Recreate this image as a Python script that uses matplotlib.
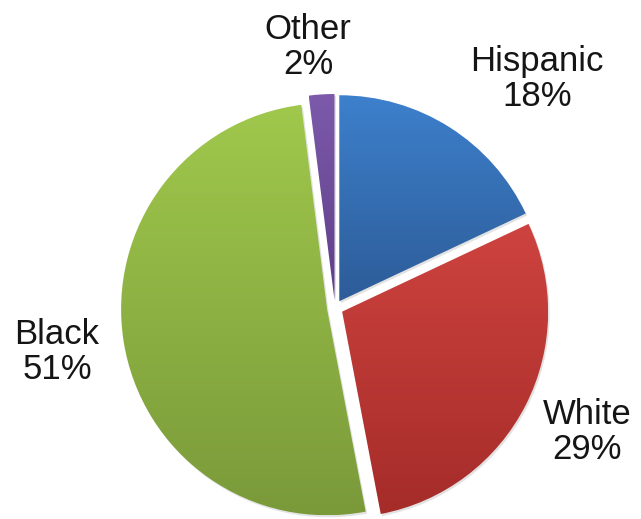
import numpy as np
import matplotlib
matplotlib.use("Agg")
from matplotlib import pyplot as plt
from matplotlib.colors import LinearSegmentedColormap

# dati
labels = ["Hispanic", "White", "Black", "Other"]
values = [18, 29, 51, 2]
top_colors = ["#3d80cc", "#ce433f", "#a0c84c", "#7d5aab"]
bottom_colors = ["#2d5c98", "#a52c29", "#7a9a3a", "#5e3f88"]
# posizione delle etichette (pixel)
label_pos = [(537, 79), (587, 432), (57, 352), (308, 47)]

W, H = 641, 519
fig = plt.figure(figsize=(W / 100, H / 100), dpi=100)
ax = fig.add_axes([0, 0, 1, 1])

cx, cy, R = 335, H - 308, 206
wedges, _ = ax.pie(values, startangle=90, counterclock=False, radius=R,
                   center=(cx, cy), explode=[8] * len(values),
                   wedgeprops=dict(linewidth=0), frame=True)
ax.set_xlim(0, W)
ax.set_ylim(0, H)
ax.set_aspect("equal")
ax.axis("off")

# gradiente verticale dentro ogni fetta
for w, c1, c2 in zip(wedges, top_colors, bottom_colors):
    w.set_facecolor("none")
    # ombra leggera
    sh = plt.matplotlib.patches.Wedge((w.center[0] + 1.5, w.center[1] - 2), w.r,
                                      w.theta1, w.theta2, color="#d0d0d0",
                                      alpha=0.6, zorder=1, lw=0)
    ax.add_patch(sh)
    bb = w.get_path().get_extents(w.get_transform() - ax.transData)
    cmap = LinearSegmentedColormap.from_list("g", [c2, c1])
    grad = np.linspace(0, 1, 256).reshape(-1, 1)
    im = ax.imshow(grad, cmap=cmap, origin="lower", aspect="auto",
                   extent=[bb.x0, bb.x1, bb.y0, bb.y1], zorder=2)
    im.set_clip_path(w)

for lab, v, (x, y) in zip(labels, values, label_pos):
    ax.text(x, H - y, f"{lab}\n{v}%", ha="center", va="center",
            fontsize=25, family="Liberation Sans", color="#151515",
            linespacing=1.1, zorder=5)

ax.set_xlim(0, W)
ax.set_ylim(0, H)
plt.savefig("out.png", dpi=100)
